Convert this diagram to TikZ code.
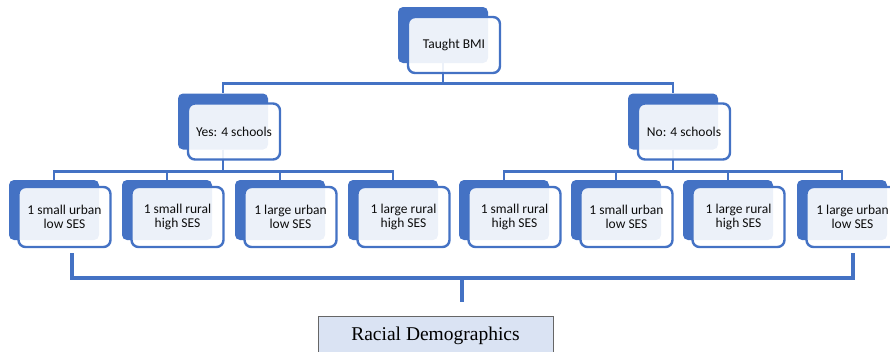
\documentclass[tikz,border=0pt]{standalone}
\usepackage{fontspec}
\setmainfont{Carlito}
\newfontfamily\timesfont{Liberation Serif}
\usetikzlibrary{calc}
\definecolor{smblue}{HTML}{4472C4}
\definecolor{demofill}{HTML}{DAE3F3}
\definecolor{txt}{HTML}{0D0D0D}
\tikzset{
  backbox/.style={fill=smblue, draw=none, rounded corners=5pt, minimum width=90pt, inner sep=0pt},
  frontbox/.style={fill=white, fill opacity=0.9, text opacity=1, draw=smblue, line width=2.4pt, rounded corners=7pt,
     minimum width=92pt, inner sep=0pt, align=center, text=txt,
     font=\fontsize{13.5}{14.5}\selectfont},
  hi/.style={minimum height=56pt},
  lo/.style={minimum height=60pt},
  conn/.style={draw=smblue, line width=2.6pt},
  bracket/.style={draw=smblue, line width=3.2pt},
  demobox/.style={fill=demofill, draw=gray!80!black, line width=0.9pt, minimum width=235pt, minimum height=40pt,
     inner sep=0pt, font=\timesfont\fontsize{19.5}{22}\selectfont, text=black}
}
\begin{document}
\begin{tikzpicture}[x=1pt,y=-1pt]
\useasboundingbox (0,0) rectangle (890,351);
% back boxes
\node[backbox,hi] (b0) at (443,35) {};
\node[backbox,hi] (by) at (223,121.5) {};
\node[backbox,hi] (bn) at (673,121.5) {};
\foreach \i/\c in {1/54,2/167,3/280,4/393,5/504,6/616,7/728,8/842}{
  \node[backbox,lo] (l\i) at (\c,210) {};
}
% connectors
\draw[conn] (b0.south) -- ++(0,20) -| (by.north);
\draw[conn] (b0.south) -- ++(0,20) -| (bn.north);
\foreach \i in {1,2,3,4}{
  \draw[conn] (by.south) -- ++(0,21.5) -| (l\i.north);
}
\foreach \i in {5,6,7,8}{
  \draw[conn] (bn.south) -- ++(0,21.5) -| (l\i.north);
}
% front boxes
\node[frontbox,hi] (f0) at (454,45) {Taught BMI};
\node[frontbox,hi] (fy) at (234,131.5) {Yes: 4 schools};
\node[frontbox,hi] (fn) at (684,131.5) {No: 4 schools};
\foreach \i/\c/\t in {1/54/{1 small urban\\low SES},2/167/{1 small rural\\high SES},3/280/{1 large urban\\low SES},4/393/{1 large rural\\high SES},5/504/{1 small rural\\high SES},6/616/{1 small urban\\low SES},7/728/{1 large rural\\high SES},8/842/{1 large urban\\low SES}}{
  \node[frontbox,lo] (g\i) at (\c+10.5,217) {\t};
}
% bottom bracket
\coordinate (bl) at (72,253);
\coordinate (br) at (853,253);
\coordinate (bm) at (462,278);
\coordinate (be) at (462,302);
\node[demobox] (demo) at (435.5,336) {Racial Demographics};
\draw[bracket] (bl) |- (bm) -| (br);
\draw[bracket] (bm) -- (be);
\end{tikzpicture}
\end{document}
